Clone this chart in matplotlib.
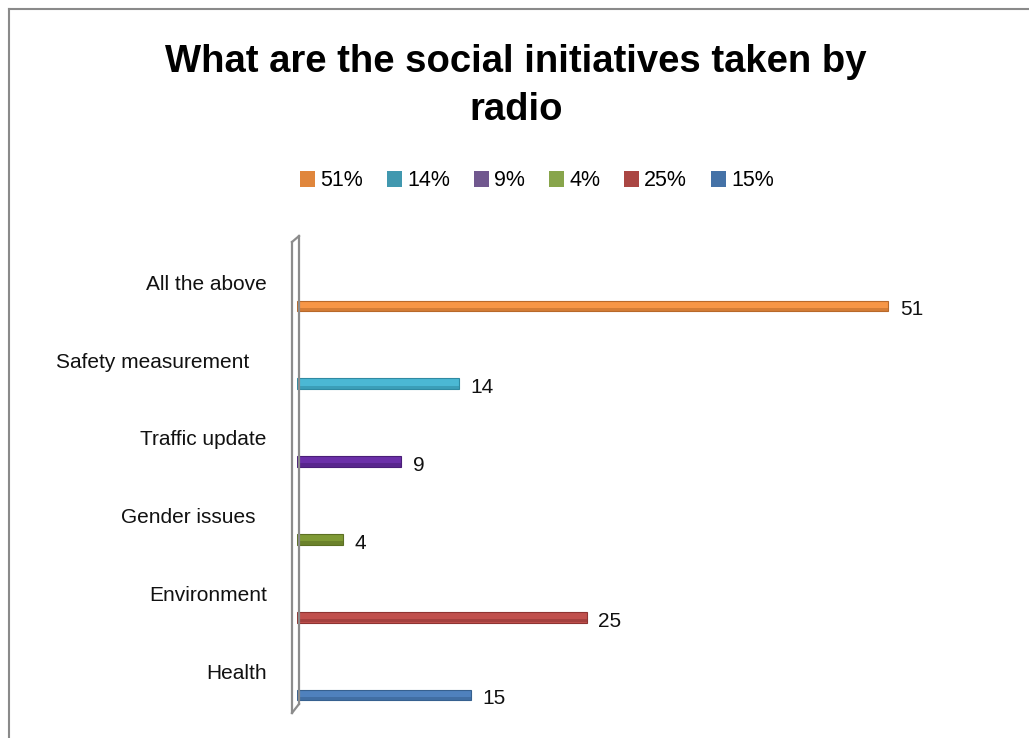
import matplotlib.pyplot as plt
from matplotlib.patches import Patch
from matplotlib.lines import Line2D

categories = ["Health", "Environment", "Gender issues  ", "Traffic update",
              "Safety measurement   ", "All the above"]
values = [15, 25, 4, 9, 14, 51]
legend_labels = ["51%", "14%", "9%", "4%", "25%", "15%"]

bar_colors = ["#4F81BD", "#C0504D", "#7F9A35", "#6B2FA8", "#4BB8D4", "#F79646"]
edge_colors = ["#36608F", "#8E3432", "#5C7023", "#4A1E78", "#2F8AA2", "#B8692A"]
legend_colors = ["#E0863C", "#4198AF", "#71588F", "#88A54B", "#AA4643", "#4572A7"]

W, H = 1029, 738
FONT = "Liberation Sans"


def px(x, y):
    return (x / W, 1 - y / H)


fig = plt.figure(figsize=(W / 100, H / 100), dpi=100)

# outer chart frame (partly cropped off right/bottom)
fig.add_artist(Line2D([px(9, 0)[0], px(9, 0)[0]], [px(0, 9)[1], 0],
                      transform=fig.transFigure, color="#8a8a8a", lw=1.5))
fig.add_artist(Line2D([px(9, 0)[0], 1], [px(0, 9)[1], px(0, 9)[1]],
                      transform=fig.transFigure, color="#8a8a8a", lw=1.5))

# plot area
x0, x1 = 297, 297 + 60 * 11.59
y_top, y_bot = 236, 713
ax = fig.add_axes([x0 / W, 1 - y_bot / H, (x1 - x0) / W, (y_bot - y_top) / H])
ax.set_xlim(0, 60)
ax.set_ylim(-0.231, 5.9)
ax.axis("off")

pos = list(range(len(categories)))
h = 0.14
for i, v in enumerate(values):
    ax.barh(pos[i], v, height=h, color=bar_colors[i], edgecolor=edge_colors[i],
            linewidth=0.8)
    # darker lower edge for a cylinder look
    ax.barh(pos[i] - h * 0.32, v, height=h * 0.3, color=edge_colors[i],
            linewidth=0, alpha=0.55)
    ax.text(v + 1.0, pos[i] - 0.05, str(v), ha="left", va="center",
            fontsize=15, family=FONT, color="#111111")
    ax.text(-2.6, pos[i] + 0.28, categories[i], ha="right", va="center",
            fontsize=15, family=FONT, color="#111111", clip_on=False)

# 3d wall on the left
wall = [((292, 242), (292, 713)), ((299, 236), (299, 704)),
        ((292, 242), (299, 236)), ((292, 713), (299, 704))]
for a, b in wall:
    pa, pb = px(*a), px(*b)
    fig.add_artist(Line2D([pa[0], pb[0]], [pa[1], pb[1]],
                          transform=fig.transFigure, color="#8c8c8c", lw=1.6))

fig.text(*px(516, 86), "What are the social initiatives taken by\nradio",
         ha="center", va="center", fontsize=27.5, fontweight="bold",
         family=FONT, linespacing=1.4)

handles = [Patch(facecolor=c, edgecolor="none") for c in legend_colors]
fig.legend(handles, legend_labels, loc="center", bbox_to_anchor=px(537, 181),
           ncol=6, frameon=False, handlelength=0.7, handleheight=0.7,
           handletextpad=0.25, columnspacing=1.1,
           prop={"family": FONT, "size": 15.5})

fig.savefig("out.png", dpi=100)
